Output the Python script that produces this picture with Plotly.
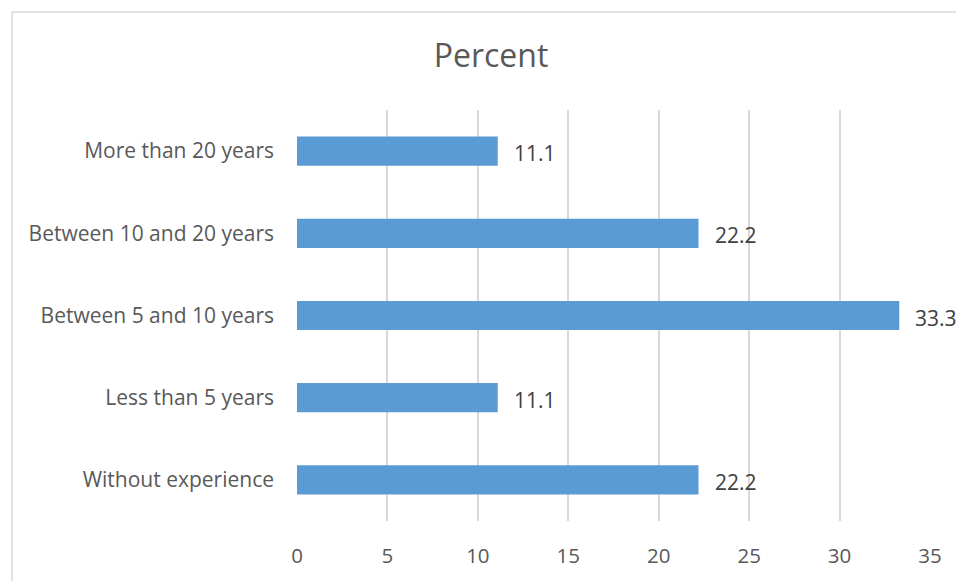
import plotly.graph_objects as go

categories = ["Without experience", "Less than 5 years", "Between 5 and 10 years",
              "Between 10 and 20 years", "More than 20 years"]
values = [22.2, 11.1, 33.3, 22.2, 11.1]
x_ticks = [0, 5, 10, 15, 20, 25, 30, 35]

FONT = "Open Sans"
fig = go.Figure(go.Bar(
    x=values, y=categories, orientation="h",
    marker=dict(color="#5B9BD5", line=dict(width=0)),
    width=0.355, hoverinfo="skip",
))

for v, c in zip(values, categories):
    fig.add_annotation(x=v, y=c, text=f"{v:.1f}", showarrow=False,
                       xanchor="left", xshift=14, yshift=-2,
                       font=dict(family=FONT, size=21, color="#404040"))

top = (581 - 11 - 56) / 415
left = (12 - 297) / 633
fig.add_shape(type="line", xref="paper", yref="paper",
              x0=left, x1=2, y0=top, y1=top,
              line=dict(color="#d9d9d9", width=1.5))
fig.add_shape(type="line", xref="paper", yref="paper",
              x0=left, x1=left, y0=-1, y1=top,
              line=dict(color="#d9d9d9", width=1.5))

fig.update_layout(
    width=956, height=581,
    margin=dict(l=297, r=26, t=110, b=56),
    paper_bgcolor="white", plot_bgcolor="white",
    title=dict(text="Percent", x=491/956, xanchor="center", y=1-56/581, yanchor="middle",
               font=dict(family=FONT, size=32, color="#595959")),
    xaxis=dict(range=[0, 35], tickvals=x_ticks, showgrid=True, gridcolor="#d9d9d9",
               gridwidth=1.5, zeroline=False, showline=False,
               tickfont=dict(family=FONT, size=20.5, color="#595959"),
               ticklabelstandoff=20, fixedrange=True),
    yaxis=dict(showgrid=False, zeroline=False, showline=False,
               categoryorder="array", categoryarray=categories,
               tickfont=dict(family=FONT, size=21, color="#595959"),
               ticklabelstandoff=22, fixedrange=True),
    showlegend=False,
)
fig.write_html("out.html")
